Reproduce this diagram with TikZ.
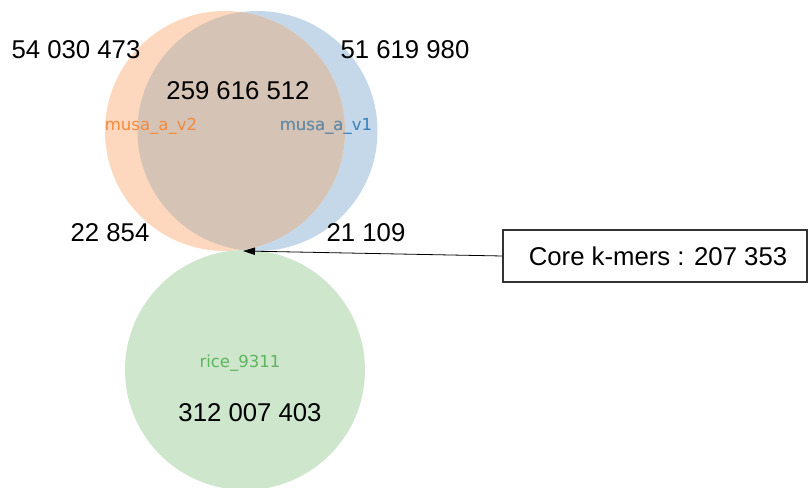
\documentclass[tikz,border=0pt]{standalone}
\usepackage{fontspec}
\setmainfont{Liberation Sans}
\newfontfamily\labfont{DejaVu Sans}
\usetikzlibrary{arrows.meta}
\definecolor{orgfill}{RGB}{253,216,190}
\definecolor{bluefill}{RGB}{196,216,234}
\definecolor{ovfill}{RGB}{213,196,181}
\definecolor{grnfill}{RGB}{205,230,204}
\definecolor{orgtxt}{RGB}{245,137,62}
\definecolor{bluetxt}{RGB}{55,128,190}
\definecolor{bluedim}{RGB}{112,140,160}
\definecolor{grntxt}{RGB}{95,180,95}
\tikzset{
  setc/.style={circle, minimum size=180pt, inner sep=0pt, draw=none},
  num/.style={font=\fontsize{19.3pt}{22pt}\selectfont, text=black, inner sep=0pt},
  lab/.style={font=\labfont\fontsize{12.4pt}{14pt}\selectfont, inner sep=0pt},
  corebox/.style={draw=black!80, line width=0.8pt, minimum width=228pt, minimum height=39pt, inner sep=0pt},
  conn/.style={draw=black, line width=0.6pt, -{Triangle[length=9pt,width=5.5pt]}}
}
\begin{document}
\begin{tikzpicture}[x=0.75pt,y=-0.75pt]
\useasboundingbox (0,0) rectangle (808,488);
\clip (0,0) rectangle (808,488);
\node[setc, fill=bluefill] (v1) at (257.5,131) {};
\node[setc, fill=orgfill] (v2) at (225,131) {};
\begin{scope}
  \clip (225,131) circle [radius=120];
  \fill[ovfill] (257.5,131) circle [radius=120];
\end{scope}
\node[setc, fill=grnfill] (rice) at (245,370) {};
\node[lab, text=orgtxt] (l2) at (151,126) {musa\_a\_v2};
\node[lab, text=bluetxt] (l1) at (326,126) {musa\_a\_v1};
\begin{scope}
  \clip (225,131) circle [radius=120];
  \node[lab, text=bluedim] (l1dim) at (326,126) {musa\_a\_v1};
\end{scope}
\node[lab, text=grntxt] (l3) at (240,363) {rice\_9311};
\node[num] (n1) at (76,50) {54 030 473};
\node[num] (n2) at (405,50) {51 619 980};
\node[num] (n3) at (238,91) {259 616 512};
\node[num] (n4) at (110,233) {22 854};
\node[num] (n5) at (366,233) {21 109};
\node[num] (n6) at (250,413) {312 007 403};
\node[corebox] (core) at (655,256) {};
\node[num] (coretxt) at (658,256) {Core k-mers : 207 353};
\coordinate (tip) at (243,251);
\draw[conn] (core.west) -- (tip);
\end{tikzpicture}
\end{document}
